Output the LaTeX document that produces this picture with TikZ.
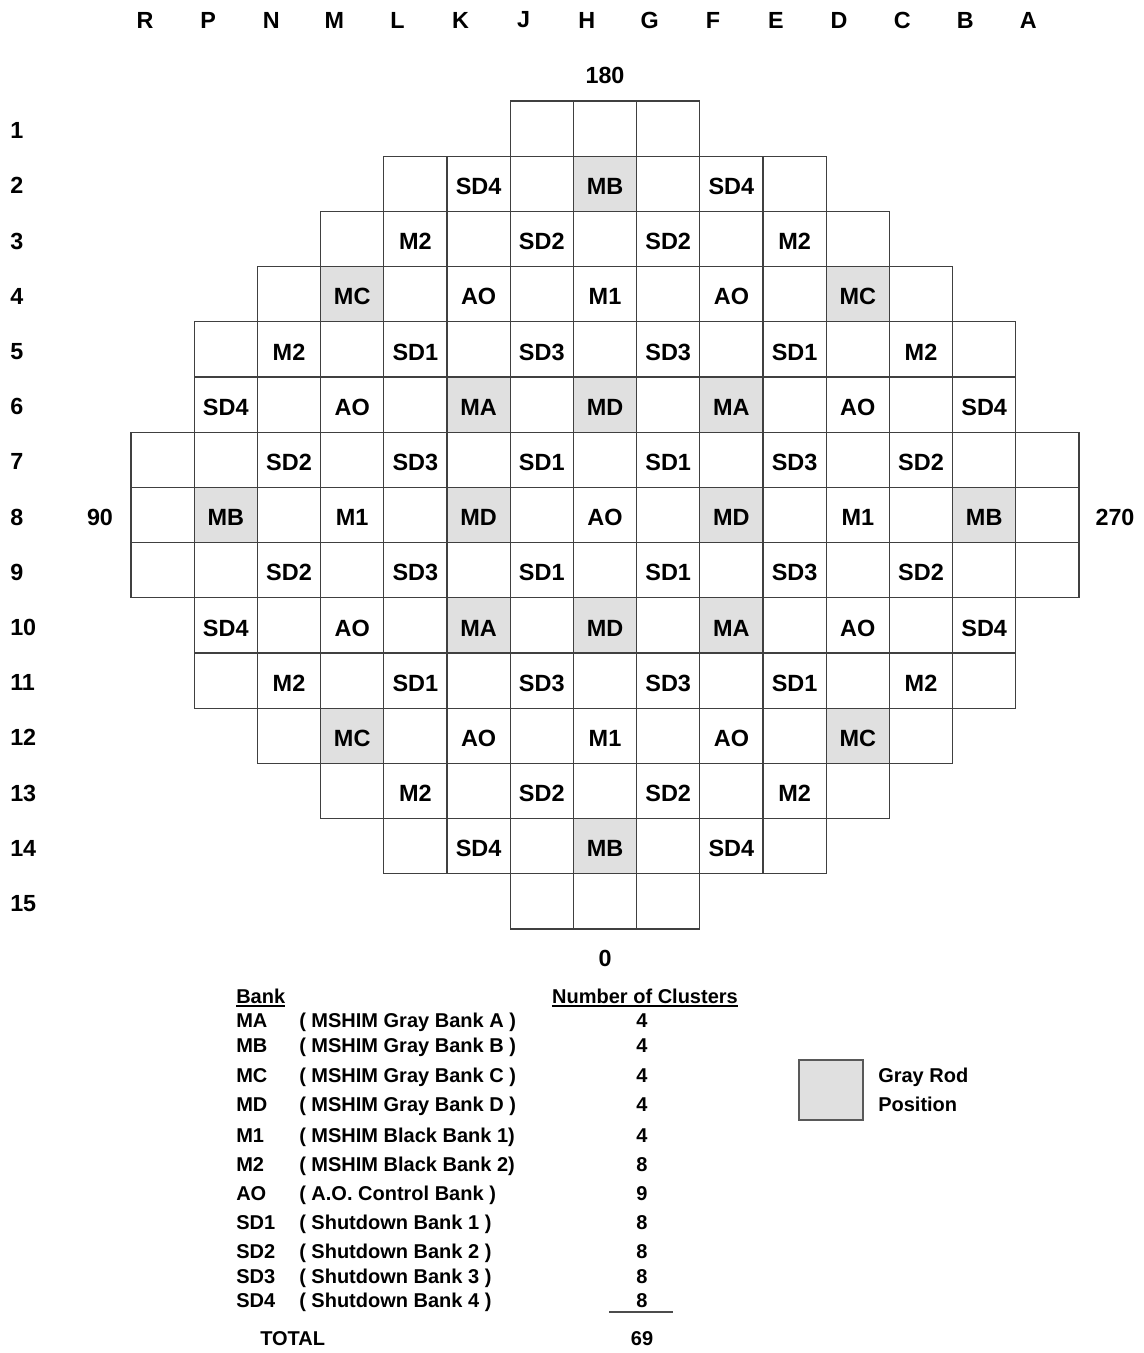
\documentclass[tikz,border=0pt]{standalone}
\usepackage{fontspec}
\setmainfont{Liberation Sans}
\usepackage{xcolor}
\usetikzlibrary{positioning}
\definecolor{rodgray}{HTML}{E0E0E0}

\begin{document}
\begin{tikzpicture}[
    x=0.75pt, y=-0.75pt,
    cell/.style={minimum width=47.4pt, minimum height=41.4pt, draw=black!75, line width=0.8pt, inner sep=0pt, outer sep=0pt},
    graycell/.style={cell, fill=rodgray},
    rod/.style={font=\fontsize{17.6}{20}\selectfont\bfseries, inner sep=0pt, yshift=-2pt},
    axislbl/.style={font=\fontsize{17.5}{20}\selectfont\bfseries, inner sep=0pt},
    legtxt/.style={font=\fontsize{15}{17}\selectfont\bfseries, inner sep=0pt, anchor=base west},
    legnum/.style={font=\fontsize{15}{17}\selectfont\bfseries, inner sep=0pt, anchor=base},
]
\useasboundingbox (0,0) rectangle (1143,1353);

% --- column letters and row numbers ---
\foreach \ltr [count=\i from 0] in {R,P,N,M,L,K,J,H,G,F,E,D,C,B,A} {
    \node[axislbl] (col-\ltr) at ({145+63.1*\i}, 20) {\ltr};
}
\foreach \r in {1,...,15} {
    \node[axislbl, anchor=west] (row-\r) at (10, {130.6+55.2*(\r-1)}) {\r};
}

% --- core lattice ---
\foreach \r/\first/\last in {1/6/8, 2/4/10, 3/3/11, 4/2/12, 5/1/13, 6/1/13, 7/0/14, 8/0/14,
                             9/0/14, 10/1/13, 11/1/13, 12/2/12, 13/3/11, 14/4/10, 15/6/8} {
    \foreach \c in {\first,...,\last} {
        \node[cell] (c\c-\r) at ({162.6+63.2*\c}, {128.6+55.2*(\r-1)}) {};
    }
}

% gray rod positions
\foreach \c/\r/\bank in {7/2/MB, 3/4/MC, 11/4/MC, 5/6/MA, 7/6/MD, 9/6/MA, 1/8/MB, 5/8/MD,
                         9/8/MD, 13/8/MB, 5/10/MA, 7/10/MD, 9/10/MA, 3/12/MC, 11/12/MC, 7/14/MB} {
    \node[graycell] (g\c-\r) at (c\c-\r) {};
    \node[rod] (t\c-\r) at (g\c-\r) {\bank};
}

% black rods, upper half mirrored to lower half
\foreach \c/\r/\bank [evaluate=\r as \rr using int(16-\r)] in {
        5/2/SD4, 9/2/SD4,
        4/3/M2, 6/3/SD2, 8/3/SD2, 10/3/M2,
        5/4/AO, 7/4/M1, 9/4/AO,
        2/5/M2, 4/5/SD1, 6/5/SD3, 8/5/SD3, 10/5/SD1, 12/5/M2,
        1/6/SD4, 3/6/AO, 11/6/AO, 13/6/SD4,
        2/7/SD2, 4/7/SD3, 6/7/SD1, 8/7/SD1, 10/7/SD3, 12/7/SD2} {
    \node[rod] (t\c-\r) at (c\c-\r) {\bank};
    \node[rod] (t\c-\rr) at (c\c-\rr) {\bank};
}
\foreach \c/\bank in {3/M1, 7/AO, 11/M1} {
    \node[rod] (t\c-8) at (c\c-8) {\bank};
}

% --- orientation ---
\node[axislbl] (deg180) at (605, 75) {180};
\node[axislbl] (deg0) at (605, 958) {0};
\node[axislbl] (deg90) at (100, 517) {90};
\node[axislbl] (deg270) at (1115, 517) {270};

% --- legend table ---
\node[legtxt] (bank-hdr) at (236, 1003) {Bank};
\node[legnum] (num-hdr) at (645, 1003) {Number of Clusters};
\draw[line width=1.2pt] ([yshift=-2pt]bank-hdr.south west) -- ([yshift=-2pt]bank-hdr.south east);
\draw[line width=1.2pt] ([yshift=-2pt]num-hdr.south west) -- ([yshift=-2pt]num-hdr.south east);

\foreach \code/\desc/\num/\y in {
        MA/{( MSHIM Gray Bank A )}/4/1027,
        MB/{( MSHIM Gray Bank B )}/4/1052,
        MC/{( MSHIM Gray Bank C )}/4/1082,
        MD/{( MSHIM Gray Bank D )}/4/1111,
        M1/{( MSHIM Black Bank 1)}/4/1142,
        M2/{( MSHIM Black Bank 2)}/8/1171,
        AO/{( A.O. Control Bank )}/9/1200,
        SD1/{( Shutdown Bank 1 )}/8/1229,
        SD2/{( Shutdown Bank 2 )}/8/1258,
        SD3/{( Shutdown Bank 3 )}/8/1283,
        SD4/{( Shutdown Bank 4 )}/8/1307} {
    \node[legtxt] (code-\code) at (236, \y) {\code};
    \node[legtxt] (desc-\code) at (299, \y) {\desc};
    \node[legnum] (num-\code) at (642, \y) {\num};
}
\draw[line width=0.8pt, black!70] (609, 1312) -- (673, 1312);
\node[legtxt] (total) at (260, 1345) {TOTAL};
\node[legnum] (num-total) at (642, 1345) {69};

% --- gray rod key ---
\node[graycell, draw=black!65, line width=1.6pt, minimum width=48pt, minimum height=45pt] (gray-key) at (831, 1090) {};
\node[legtxt] (key-line1) at (878, 1082) {Gray Rod};
\node[legtxt] (key-line2) at (878, 1111) {Position};

\end{tikzpicture}
\end{document}
